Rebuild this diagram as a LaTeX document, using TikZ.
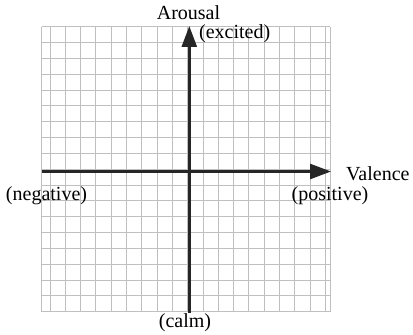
\documentclass[tikz,border=0pt]{standalone}
\usepackage{fontspec}
\setmainfont{Liberation Serif}
\usetikzlibrary{arrows.meta}
\begin{document}
\begin{tikzpicture}[x=1pt,y=1pt,
  gridline/.style={draw=gray!50,line width=0.9pt},
  axisline/.style={draw=black!85,line width=2.6pt,-{Triangle[length=21pt,width=15pt]}},
  lbl/.style={font=\fontsize{20}{22}\selectfont,inner sep=0pt}]
\useasboundingbox (0,0) rectangle (413,335);
% grid
\foreach \i in {0,...,18}{
  \draw[gridline] ({50+\i*15.3},23.3) -- ({50+\i*15.3},308.3);
  \draw[gridline] (41.7,{23.3+\i*15.833}) -- (330,{23.3+\i*15.833});
}
\draw[gridline] (41.7,23.3) -- (41.7,308.3);
\draw[gridline] (330,23.3) -- (330,308.3);
% axes
\coordinate (xs) at (41.7,163.5);
\coordinate (xe) at (331,163.5);
\coordinate (ys) at (189.3,22);
\coordinate (ye) at (189.3,309);
\draw[axisline] (xs) -- (xe);
\draw[axisline] (ys) -- (ye);
% labels
\node[lbl] (ar) at (188.5,322) {Arousal};
\node[lbl,anchor=west] (ex) at (199,301) {(excited)};
\node[lbl,anchor=west] (va) at (346,161) {Valence};
\node[lbl] (po) at (330,139) {(positive)};
\node[lbl] (ne) at (46.5,139) {(negative)};
\node[lbl] (ca) at (185,12) {(calm)};
\end{tikzpicture}
\end{document}
